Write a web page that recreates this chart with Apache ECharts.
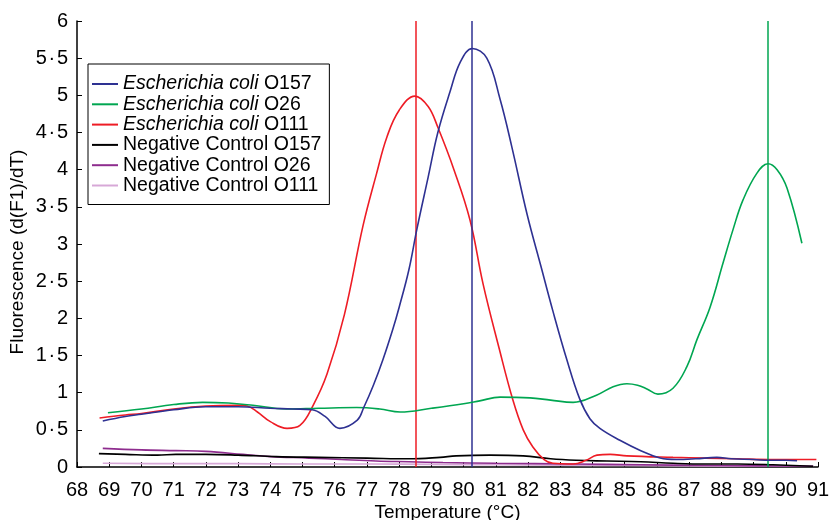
<!DOCTYPE html>
<html>
<head>
<meta charset="utf-8">
<script src="https://cdn.jsdelivr.net/npm/echarts@6/dist/echarts.min.js"></script>
<style>html,body{margin:0;padding:0;background:#fff;}#c{width:834px;height:520px;}</style>
</head>
<body>
<div id="c"></div>
<script>
// Temperature (°C) and fluorescence d(F1)/dT values
var o157X = [68.8, 69.5, 70, 71, 72, 73, 74, 74.7, 75.3, 75.7, 76.16, 76.7, 76.9, 77.2, 77.5, 77.8, 78.0, 78.3, 78.55, 78.9, 79.2, 79.58, 79.9, 80.27, 80.72, 81.13, 81.5, 81.97, 82.4, 82.77, 83.2, 83.6, 83.92, 84.23, 84.85, 85.5, 86.1, 86.6, 87.2, 87.86, 88.3, 89, 89.5, 90, 90.35];
var o157Y = [0.62, 0.68, 0.71, 0.77, 0.81, 0.81, 0.79, 0.78, 0.77, 0.68, 0.52, 0.63, 0.8, 1.1, 1.45, 1.85, 2.15, 2.65, 3.2, 3.9, 4.5, 5.05, 5.45, 5.63, 5.5, 4.95, 4.3, 3.4, 2.7, 2.1, 1.45, 0.92, 0.65, 0.52, 0.36, 0.22, 0.12, 0.1, 0.11, 0.13, 0.11, 0.1, 0.09, 0.09, 0.085];

var o26X = [68.96, 70, 71, 71.9, 72.7, 73.46, 74.5, 75.5, 76.68, 77.4, 78.03, 79, 80, 80.5, 81.13, 82.06, 82.7, 83.4, 84.14, 84.64, 85.07, 85.4, 85.69, 86.03, 86.5, 86.93, 87.24, 87.65, 88.05, 88.36, 88.67, 89.1, 89.45, 89.73, 90.04, 90.5];
var o26Y = [0.73, 0.78, 0.84, 0.87, 0.86, 0.83, 0.78, 0.79, 0.8, 0.78, 0.74, 0.79, 0.85, 0.89, 0.94, 0.93, 0.9, 0.87, 0.97, 1.08, 1.12, 1.1, 1.05, 0.98, 1.06, 1.35, 1.71, 2.15, 2.74, 3.19, 3.59, 3.95, 4.08, 4.0, 3.75, 3.01];

var o111X = [68.7, 69.5, 70, 71, 72, 73, 73.28, 73.6, 74, 74.52, 74.92, 75.33, 75.76, 76.3, 76.88, 77.3, 77.62, 78, 78.49, 78.9, 79.2, 79.7, 80.2, 80.6, 81.1, 81.53, 81.85, 82.15, 82.5, 82.77, 83.4, 83.8, 84.14, 84.55, 85.07, 86.5, 87.5, 88.5, 89.5, 90.95];
var o111Y = [0.66, 0.7, 0.72, 0.78, 0.82, 0.83, 0.82, 0.74, 0.61, 0.52, 0.56, 0.83, 1.25, 2.05, 3.25, 3.95, 4.44, 4.8, 4.99, 4.85, 4.57, 4.0, 3.32, 2.47, 1.6, 0.9, 0.5, 0.27, 0.1, 0.05, 0.04, 0.09, 0.16, 0.17, 0.15, 0.13, 0.12, 0.11, 0.1, 0.1];

var nc157X = [68.68, 69.5, 70.5, 71.07, 72, 73, 74.18, 75.5, 77, 78.3, 79.27, 79.77, 80.82, 81.85, 82.7, 83.5, 84.45, 85.5, 86.5, 87.5, 88.5, 89.6, 90.85];
var nc157Y = [0.18, 0.17, 0.16, 0.17, 0.17, 0.16, 0.14, 0.13, 0.12, 0.11, 0.13, 0.15, 0.16, 0.15, 0.11, 0.09, 0.08, 0.07, 0.05, 0.04, 0.04, 0.03, 0.01];

var nc26X = [68.8, 70, 71.07, 72, 73.15, 74, 75.2, 76.2, 77.28, 78.3, 79.36, 81, 83.4, 85.5, 87.55, 89.2, 90.85];
var nc26Y = [0.25, 0.23, 0.22, 0.21, 0.17, 0.14, 0.12, 0.1, 0.08, 0.07, 0.06, 0.05, 0.04, 0.03, 0.02, 0.015, 0.01];

var nc111X = [68.8, 71, 73, 75, 77, 79, 81, 83, 85, 87, 89, 90.85];
var nc111Y = [0.05, 0.045, 0.045, 0.04, 0.04, 0.035, 0.03, 0.025, 0.02, 0.015, 0.01, 0.01];

// Melting peak markers (°C)
var peakO111 = 78.52;
var peakO157 = 80.26;
var peakO26 = 89.44;

var seriesNames = ['Escherichia coli O157', 'Escherichia coli O26', 'Escherichia coli O111', 'Negative Control O157', 'Negative Control O26', 'Negative Control O111'];
var seriesColors = ['#2e3192', '#00a651', '#ee1c25', '#000000', '#8e2c8e', '#d7a8d7'];
var xTicks = {min: 68, max: 91, step: 1};
var yTicks = {min: 0, max: 6, step: 0.5};

function pairs(xs, ys) { return xs.map(function (x, i) { return [x, ys[i]]; }); }

var FONT = 'Liberation Sans, Arial, Helvetica, sans-serif';
var chart = echarts.init(document.getElementById('c'), null, {renderer: 'canvas'});

function mk(name, color, xs, ys, peak, z) {
  var s = {
    name: name, type: 'line', data: pairs(xs, ys), smooth: 0.4, showSymbol: false, symbol: 'none',
    lineStyle: {color: color, width: 1.6}, itemStyle: {color: color}, z: z, animation: false
  };
  if (peak != null) {
    s.markLine = {
      silent: true, symbol: ['none', 'none'], label: {show: false},
      lineStyle: {color: color, type: 'solid', width: 1.5},
      data: [{xAxis: peak}], animation: false
    };
  }
  return s;
}

chart.setOption({
  animation: false,
  backgroundColor: '#fff',
  grid: {left: 77, right: 16, top: 21, bottom: 53, containLabel: false, outerBoundsMode: 'none'},
  legend: {
    orient: 'vertical', left: 88, top: 64,
    borderColor: '#000', borderWidth: 1,
    padding: [10, 8, 9, 4],
    itemWidth: 26, itemHeight: 2, itemGap: 0.3, icon: 'rect',
    data: seriesNames,
    textStyle: {
      fontFamily: FONT, fontSize: 19.5, color: '#000', lineHeight: 19,
      rich: {i: {fontStyle: 'italic', fontFamily: FONT, fontSize: 19.5, color: '#000', lineHeight: 19}}
    },
    formatter: function (n) {
      var p = 'Escherichia coli ';
      if (n.indexOf(p) === 0) return '{i|Escherichia coli} ' + n.slice(p.length);
      return n;
    }
  },
  xAxis: {
    type: 'value', min: xTicks.min, max: xTicks.max, interval: xTicks.step,
    name: 'Temperature (°C)', nameLocation: 'middle', nameGap: 36, nameMoveOverlap: false,
    nameTextStyle: {fontFamily: FONT, fontSize: 19, color: '#000'},
    axisLine: {show: true, lineStyle: {color: '#000', width: 1.5}},
    axisTick: {show: true, inside: true, length: 5, lineStyle: {color: '#000'}},
    axisLabel: {fontFamily: FONT, fontSize: 20, color: '#000', margin: 13},
    splitLine: {show: false}
  },
  yAxis: {
    type: 'value', min: yTicks.min, max: yTicks.max, interval: yTicks.step,
    name: 'Fluorescence (d(F1)/dT)', nameLocation: 'middle', nameGap: 50, nameMoveOverlap: false,
    nameTextStyle: {fontFamily: FONT, fontSize: 19, color: '#000', padding: [0, 16, 0, 0]},
    axisLine: {show: true, lineStyle: {color: '#000', width: 1.5}},
    axisTick: {show: true, inside: true, length: 5, lineStyle: {color: '#000'}},
    axisLabel: {fontFamily: FONT, fontSize: 20, color: '#000', margin: 9,
      formatter: function (v) { return String(v).replace('.', '\u200A·\u200A'); }},
    splitLine: {show: false}
  },
  series: [
    mk(seriesNames[0], seriesColors[0], o157X, o157Y, peakO157, 6),
    mk(seriesNames[1], seriesColors[1], o26X, o26Y, peakO26, 5),
    mk(seriesNames[2], seriesColors[2], o111X, o111Y, peakO111, 4),
    mk(seriesNames[3], seriesColors[3], nc157X, nc157Y, null, 3),
    mk(seriesNames[4], seriesColors[4], nc26X, nc26Y, null, 2),
    mk(seriesNames[5], seriesColors[5], nc111X, nc111Y, null, 1)
  ]
});
</script>
</body>
</html>
